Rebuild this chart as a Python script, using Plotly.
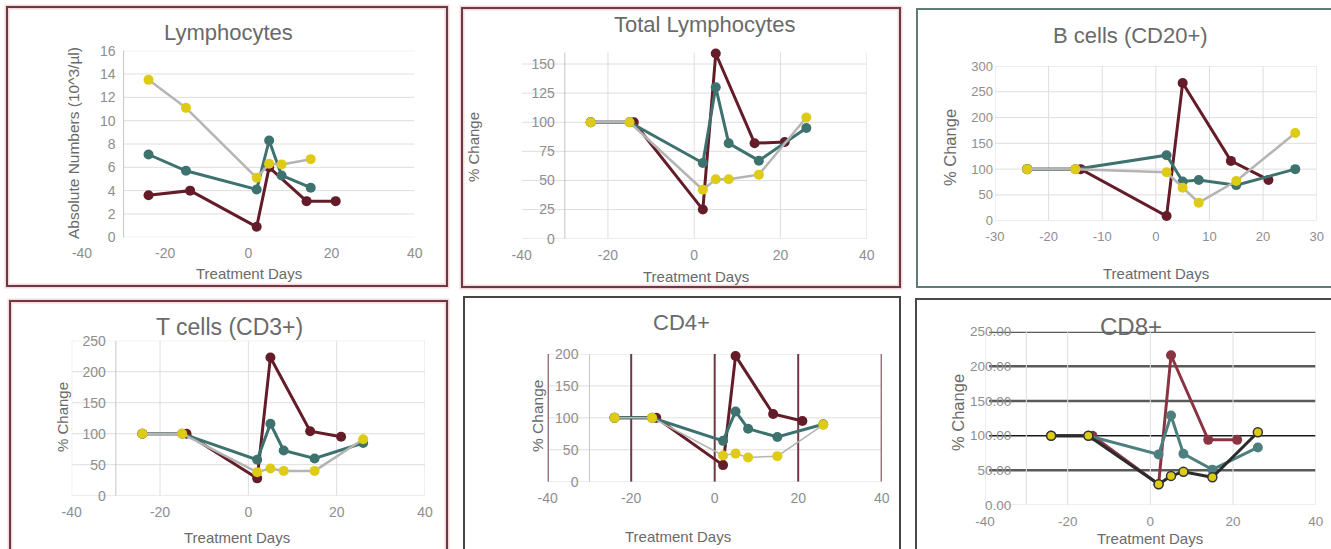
import plotly.graph_objects as go

W, H = 1331, 549

# ---------------- data ----------------
days_red = [-24, -14, 2, 5, 14, 21]
days_teal = [-24, -15, 2, 5, 8, 15, 26]
days_yel = [-24, -15, 2, 5, 8, 15, 26]

lym_red = [3.6, 4.0, 0.9, 6.0, 3.1, 3.1]
lym_teal = [7.1, 5.7, 4.1, 8.3, 5.3, 4.25, None]
lym_yel = [13.5, 11.1, 5.1, 6.3, 6.25, 6.7, None]

tot_red = [100, 100, 25, 159, 82, 83]
tot_teal = [100, 100, 65, 130, 82, 67, 95]
tot_yel = [100, 100, 42, 51, 51, 55, 104]

bc_red = [100, 100, 9, 267, 116, 79]
bc_teal = [100, 100, 127, 76, 79, 69, 100]
bc_yel = [100, 100, 94, 64, 35, 77, 170]

tc_red = [100, 100, 28, 223, 104, 95]
tc_teal = [100, 100, 58, 116, 73, 60, 85]
tc_yel = [100, 100, 38, 44, 40, 40, 91]

cd4_red = [100, 100, 26, 197, 106, 95]
cd4_teal = [100, 100, 64, 110, 83, 70, 90]
cd4_yel = [100, 100, 41, 44, 38, 40, 89]

cd8_red = [100, 100, 30, 216, 94, 94]
cd8_teal = [100, 100, 73, 129, 74, 51, 83]
cd8_yel = [100, 100, 30, 42, 48, 40, 105]

titles = ["Lymphocytes", "Total Lymphocytes", "B cells (CD20+)",
          "T cells (CD3+)", "CD4+", "CD8+"]
x_title = "Treatment Days"
y_titles = ["Absolute Numbers (10^3/µl)", "% Change", "% Change",
            "% Change", "% Change", "% Change"]

xticks_40 = [-40, -20, 0, 20, 40]
xticktext_40 = ["-40", "-20", "0", "20", "40"]
xticks_30 = [-30, -20, -10, 0, 10, 20, 30]
xticktext_30 = ["-30", "-20", "-10", "0", "10", "20", "30"]
yticks_lym = [0, 2, 4, 6, 8, 10, 12, 14, 16]
yticks_tot = [0, 25, 50, 75, 100, 125, 150]
yticks_bc = [0, 50, 100, 150, 200, 250, 300]
yticks_tc = [0, 50, 100, 150, 200, 250]
yticks_cd4 = [0, 50, 100, 150, 200]
yticks_cd8 = [0, 50, 100, 150, 200, 250]
yticktext_cd8 = ["0.00", "50.00", "100.00", "150.00", "200.00", "250.00"]

# ---------------- styles ----------------
RED = "#641c29"
TEAL = "#3d726e"
YEL = "#ddcb16"
GREYLINE = "#b4b4b4"
GRID = "#dedede"
AXLINE = "#c4c4c4"
FONT = "Liberation Sans, Arial, sans-serif"
TXT = "#6a6a6a"
TICK = "#8e8e8e"
MAROON = "#6e3942"

panels = [
    dict(x=(82, 414.7), y=(50.7, 237.3), xr=(-40, 40), yr=(0, 16), xt=xticks_40, xtt=xticktext_40,
         yt=yticks_lym, ytt=None,
         data=(lym_red, lym_teal, lym_yel), hx=(-30, 40), vg=[(-30, AXLINE, 1)], gap=8, tf=14,
         title=(228, 33, 22), xtl=(249, 273), ytl=(74, 143, 15.5), border=(MAROON, 7, 7, 447, 286)),
    dict(x=(521.7, 866.7), y=(52.35, 238.7), xr=(-40, 40), yr=(0, 160), xt=xticks_40, xtt=xticktext_40,
         yt=yticks_tot, ytt=None,
         data=(tot_red, tot_teal, tot_yel), hx=(-40, 40),
         vg=[(-30, AXLINE, 1), (-20, GRID, 1), (0, GRID, 1), (20, GRID, 1), (40, GRID, 1)], gap=10, tf=14,
         title=(705, 25, 22), xtl=(696, 276), ytl=(473, 147, 15), border=(MAROON, 462, 8, 900, 287)),
    dict(x=(995, 1316.7), y=(66, 220.7), xr=(-30, 30), yr=(0, 300), xt=xticks_30, xtt=xticktext_30,
         yt=yticks_bc, ytt=None,
         data=(bc_red, bc_teal, bc_yel), hx=(-30, 30),
         vg=[(v, GRID, 1) for v in xticks_30], gap=2, tf=13,
         title=(1130, 36, 22), xtl=(1156, 273), ytl=(950, 148, 16.5), border=("#5d7c78", 917, 9, 1345, 287)),
    dict(x=(71.7, 425), y=(340.7, 495.7), xr=(-40, 40), yr=(0, 250), xt=xticks_40, xtt=xticktext_40,
         yt=yticks_tc, ytt=None,
         data=(tc_red, tc_teal, tc_yel), hx=(-40, 40),
         vg=[(-40, GRID, 1), (-30, AXLINE, 1), (-20, GRID, 1), (0, GRID, 1), (20, GRID, 1), (40, GRID, 1)],
         gap=10, tf=14,
         title=(229, 327, 23), xtl=(237, 537), ytl=(62, 417, 15), border=(MAROON, 10, 301, 447, 560)),
    dict(x=(547.7, 881.7), y=(354, 481.7), xr=(-40, 40), yr=(0, 200), xt=xticks_40, xtt=xticktext_40,
         yt=yticks_cd4, ytt=None,
         data=(cd4_red, cd4_teal, cd4_yel), hx=(-40, 40),
         vg=[(-30, AXLINE, 1)] + [(v, MAROON, 2) for v in xticks_40], gap=11, tf=14,
         title=(681, 322, 22), xtl=(678, 536), ytl=(537, 416, 15.5), border=("#454545", 464, 297, 900, 560)),
    dict(x=(985, 1315.7), y=(331.7, 505), xr=(-40, 40), yr=(0, 250), xt=xticks_40, xtt=xticktext_40,
         yt=yticks_cd8, ytt=yticktext_cd8,
         data=(cd8_red, cd8_teal, cd8_yel), hx=(-39, 40),
         vg=[(-40, GRID, 1), (-30, GRID, 1), (-20, GRID, 1), (0, GRID, 1), (20, GRID, 1), (40, GRID, 1)],
         gap=15, tf=13.5,
         title=(1131, 326, 24), xtl=(1150, 538), ytl=(958, 413, 16.5), border=("#4a4a4a", 916, 299, 1345, 560)),
]

fig = go.Figure()
shapes = []
annotations = []

for i, p in enumerate(panels):
    n = "" if i == 0 else str(i + 1)
    xa, ya = "x" + n, "y" + n
    xdom = [p["x"][0] / W, p["x"][1] / W]
    ydom = [1 - p["y"][1] / H, 1 - p["y"][0] / H]
    x0, x1 = p["xr"]
    axis_px = p["x"][0] + (-30 - x0) / (x1 - x0) * (p["x"][1] - p["x"][0])

    red, teal, yel = p["data"]
    last = (i == 5)
    fig.add_trace(go.Scatter(
        x=days_red, y=red, xaxis=xa, yaxis=ya, mode="lines+markers", showlegend=False, cliponaxis=False,
        line=dict(color="#8a3443" if last else RED, width=3),
        marker=dict(color="#8a3443" if last else RED, size=10)))
    fig.add_trace(go.Scatter(
        x=days_teal, y=teal, xaxis=xa, yaxis=ya, mode="lines+markers", showlegend=False, cliponaxis=False,
        line=dict(color="#4d7f7e" if last else TEAL, width=3),
        marker=dict(color="#4d7f7e" if last else TEAL, size=10)))
    fig.add_trace(go.Scatter(
        x=days_yel, y=yel, xaxis=xa, yaxis=ya, mode="lines+markers", showlegend=False, cliponaxis=False,
        line=dict(color="#2b2b2b" if last else GREYLINE, width=3 if last else (1.5 if i == 4 else 2.5)),
        marker=dict(color=YEL, size=10 if not last else 9,
                    line=dict(color="#333333", width=1.5) if last else dict(width=0))))

    fig.update_layout(**{
        ("xaxis" + n): dict(domain=xdom, range=list(p["xr"]), anchor=ya, tickvals=p["xt"], ticktext=p["xtt"],
                             showgrid=False, zeroline=False, showline=False, ticks="", automargin=False,
                             ticklabelstandoff=6,
                             tickfont=dict(family=FONT, size=p["tf"], color=TICK)),
        ("yaxis" + n): dict(domain=ydom, range=list(p["yr"]), anchor="free", position=axis_px / W,
                             tickvals=p["yt"], ticktext=p["ytt"] if p["ytt"] else [str(v) for v in p["yt"]],
                             showgrid=False, zeroline=False, showline=False, ticks="", automargin=False,
                             ticklabelstandoff=p["gap"],
                             tickfont=dict(family=FONT, size=p["tf"], color=TICK)),
    })

    # horizontal gridlines
    for v in p["yt"]:
        col, wd = GRID, 1
        if last:
            if v == 100:
                col, wd = "#1a1a1a", 1.5
            elif v != 0:
                col, wd = "#5a5a5a", 2.5
        shapes.append(dict(type="line", xref=xa, yref=ya, x0=p["hx"][0], x1=p["hx"][1], y0=v, y1=v,
                           line=dict(color=col, width=wd), layer="below"))
    # vertical gridlines / axis line
    for (v, col, wd) in p["vg"]:
        shapes.append(dict(type="line", xref=xa, yref=ya, x0=v, x1=v, y0=p["yr"][0], y1=p["yr"][1],
                           line=dict(color=col, width=wd), layer="below"))

    # border
    bc, bx0, by0, bx1, by1 = p["border"]
    if bc == MAROON:
        shapes.append(dict(type="rect", xref="paper", yref="paper", x0=bx0 / W, x1=bx1 / W,
                           y0=1 - by1 / H, y1=1 - by0 / H, line=dict(color="#f1d9dc", width=5), layer="below"))
    shapes.append(dict(type="rect", xref="paper", yref="paper", x0=bx0 / W, x1=bx1 / W,
                       y0=1 - by1 / H, y1=1 - by0 / H, line=dict(color=bc, width=2), layer="below"))

    tx, ty, ts = p["title"]
    annotations.append(dict(text=titles[i], x=tx / W, y=1 - ty / H, xref="paper", yref="paper",
                            xanchor="center", yanchor="middle", showarrow=False,
                            font=dict(family=FONT, size=ts, color=TXT)))
    annotations.append(dict(text=x_title, x=p["xtl"][0] / W, y=1 - p["xtl"][1] / H, xref="paper",
                            yref="paper", xanchor="center", yanchor="middle", showarrow=False,
                            font=dict(family=FONT, size=15, color=TXT)))
    annotations.append(dict(text=y_titles[i], x=p["ytl"][0] / W, y=1 - p["ytl"][1] / H, xref="paper",
                            yref="paper", xanchor="center", yanchor="middle", showarrow=False,
                            textangle=-90, font=dict(family=FONT, size=p["ytl"][2], color=TXT)))

fig.update_layout(width=W, height=H, margin=dict(l=0, r=0, t=0, b=0, autoexpand=False),
                  paper_bgcolor="white", plot_bgcolor="rgba(0,0,0,0)",
                  shapes=shapes, annotations=annotations, showlegend=False)

fig.write_html("out.html")
